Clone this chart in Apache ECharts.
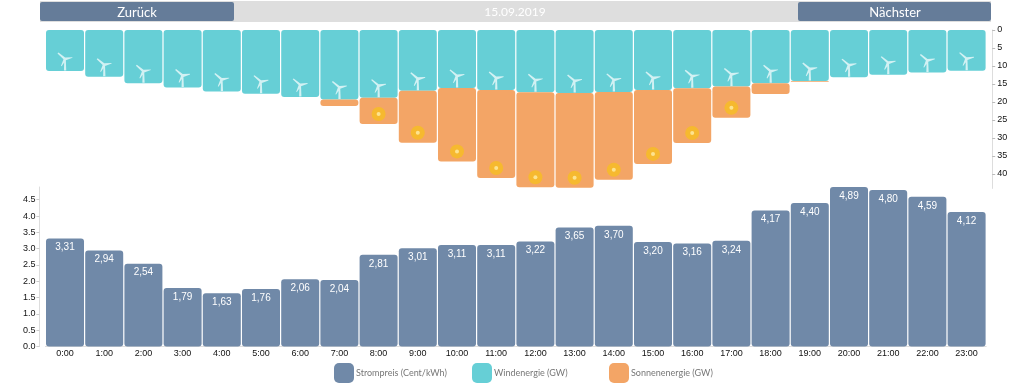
<!DOCTYPE html>
<html>
<head>
<meta charset="utf-8">
<title>Strompreis</title>
<style>
  html, body { margin: 0; padding: 0; background: #fff; }
  #chart { width: 1031px; height: 386px; }
</style>
<script src="https://cdn.jsdelivr.net/npm/echarts@6/dist/echarts.min.js"></script>
</head>
<body>
<div id="chart"></div>
<script>
var hours = ['0:00', '1:00', '2:00', '3:00', '4:00', '5:00', '6:00', '7:00', '8:00', '9:00', '10:00', '11:00',
  '12:00', '13:00', '14:00', '15:00', '16:00', '17:00', '18:00', '19:00', '20:00', '21:00', '22:00', '23:00'];
var wind = [11.4, 13.0, 14.8, 16.0, 17.1, 17.7, 18.6, 19.3, 18.8, 16.9, 16.1, 16.7,
  17.3, 17.5, 17.2, 16.7, 16.2, 15.7, 14.8, 14.2, 13.1, 12.4, 11.8, 11.3];
var solar = [0, 0, 0, 0, 0, 0, 0, 1.8, 7.3, 14.4, 20.4, 24.4,
  26.4, 26.3, 24.4, 20.5, 15.2, 8.7, 3.0, 0.2, 0, 0, 0, 0];
var price = [3.31, 2.94, 2.54, 1.79, 1.63, 1.76, 2.06, 2.04, 2.81, 3.01, 3.11, 3.11,
  3.22, 3.65, 3.70, 3.20, 3.16, 3.24, 4.17, 4.40, 4.89, 4.80, 4.59, 4.12];
var energyTicks = [0, 5, 10, 15, 20, 25, 30, 35, 40];
var priceTicks = [0, 0.5, 1, 1.5, 2, 2.5, 3, 3.5, 4, 4.5];

var windName = 'Windenergie (GW)';
var solarName = 'Sonnenenergie (GW)';
var priceName = 'Strompreis (Cent/kWh)';
var dateText = '15.09.2019';

var turbine = 'path://M6.3 6.6 L0 0.9 L1 0 L8 5 L15.6 4.6 L15.8 5.3 L8.8 7.8 L9.2 18 L6.8 18 L7 10 L4.4 13.6 L3.7 13.2 Z';
var labelFont = '"Liberation Sans", sans-serif';
var thinFont = 'Lato, "Noto Sans", sans-serif';

// Sonnen-Icon nur wenn der Balken hoch genug ist
var sunPos = solar.map(function (v, i) {
  return v >= 5 ? wind[i] + v : '-';
});

var chart = echarts.init(document.getElementById('chart'));

chart.setOption({
  animation: false,
  grid: [
    { left: 45.4, width: 940.8, top: 30, height: 158.4 },
    { left: 45.4, width: 940.8, top: 187, height: 159.5 }
  ],
  legend: [
    { data: [priceName], left: 334, top: 363 },
    { data: [windName], left: 472, top: 363 },
    { data: [solarName], left: 609, top: 363 }
  ].map(function (l) {
    l.icon = 'roundRect';
    l.itemWidth = 20;
    l.itemHeight = 20;
    l.itemGap = 0;
    l.padding = 0;
    l.selectedMode = false;
    l.textStyle = { color: '#777', fontFamily: thinFont, fontSize: 9, padding: [0, 0, 0, -3] };
    return l;
  }),
  xAxis: [
    { type: 'category', gridIndex: 0, data: hours, show: false },
    {
      type: 'category',
      gridIndex: 1,
      data: hours,
      axisLine: { lineStyle: { color: '#ddd' } },
      axisTick: { show: false },
      axisLabel: { color: '#111', fontFamily: labelFont, fontSize: 9, interval: 0, margin: 3 }
    }
  ],
  yAxis: [
    {
      type: 'value',
      gridIndex: 0,
      position: 'right',
      inverse: true,
      min: 0,
      max: 44,
      offset: 6,
      splitLine: { show: false },
      axisLine: { show: true, lineStyle: { color: '#ddd' } },
      axisTick: { show: true, length: 3, customValues: energyTicks, lineStyle: { color: '#bbb' } },
      axisLabel: { customValues: energyTicks, color: '#111', fontFamily: labelFont, fontSize: 9, margin: 5 }
    },
    {
      type: 'value',
      gridIndex: 1,
      position: 'left',
      min: 0,
      max: 4.89,
      offset: 6,
      splitLine: { show: false },
      axisLine: { show: true, lineStyle: { color: '#ddd' } },
      axisTick: { show: true, length: 3, customValues: priceTicks, lineStyle: { color: '#ccc' } },
      axisLabel: {
        customValues: priceTicks,
        color: '#111',
        fontFamily: labelFont,
        fontSize: 9,
        margin: 4,
        formatter: function (v) { return v.toFixed(1); }
      }
    }
  ],
  series: [
    {
      name: priceName,
      type: 'bar',
      xAxisIndex: 1,
      yAxisIndex: 1,
      barWidth: 38,
      data: price,
      itemStyle: { color: '#7089a8', borderRadius: 3 },
      label: {
        show: true,
        position: 'insideTop',
        distance: 4,
        color: '#fff',
        fontFamily: labelFont,
        fontSize: 10,
        formatter: function (p) { return p.value.toFixed(2).replace('.', ','); }
      }
    },
    {
      name: windName,
      type: 'bar',
      stack: 'energie',
      barWidth: 38,
      data: wind,
      itemStyle: { color: '#66cfd6', borderRadius: 3 }
    },
    {
      name: solarName,
      type: 'bar',
      stack: 'energie',
      barWidth: 38,
      data: solar,
      itemStyle: { color: '#f3a566', borderRadius: 3 }
    },
    {
      name: 'windrad',
      type: 'scatter',
      data: wind,
      symbol: turbine,
      symbolSize: [15, 18],
      symbolOffset: [0, -9.5],
      itemStyle: { color: '#d2f1f3', opacity: 1 },
      silent: true,
      z: 5
    },
    {
      name: 'sonne',
      type: 'scatter',
      data: sunPos,
      symbol: 'circle',
      symbolSize: 14,
      symbolOffset: [0, -10],
      itemStyle: { color: '#f6b92f', opacity: 1 },
      silent: true,
      z: 5
    },
    {
      name: 'sonne2',
      type: 'scatter',
      data: sunPos,
      symbol: 'circle',
      symbolSize: 4,
      symbolOffset: [0, -10],
      itemStyle: { color: '#fde38f', opacity: 1 },
      silent: true,
      z: 6
    }
  ],
  graphic: [
    { type: 'rect', shape: { x: 40, y: 1, width: 951, height: 21 }, style: { fill: '#dedede' } },
    { type: 'rect', shape: { x: 40, y: 2, width: 194, height: 19, r: 2 }, style: { fill: '#657c99' } },
    { type: 'rect', shape: { x: 798, y: 2, width: 193, height: 19, r: 2 }, style: { fill: '#657c99' } },
    {
      type: 'text', x: 137, y: 12.5,
      style: { text: 'Zurück', fill: '#fff', font: '13px ' + thinFont, textAlign: 'center', textVerticalAlign: 'middle' }
    },
    {
      type: 'text', x: 515, y: 12,
      style: { text: dateText, fill: '#fff', font: '12px ' + thinFont, textAlign: 'center', textVerticalAlign: 'middle' }
    },
    {
      type: 'text', x: 895, y: 13,
      style: { text: 'Nächster', fill: '#fff', font: '13px ' + thinFont, textAlign: 'center', textVerticalAlign: 'middle' }
    }
  ]
});
</script>
</body>
</html>
